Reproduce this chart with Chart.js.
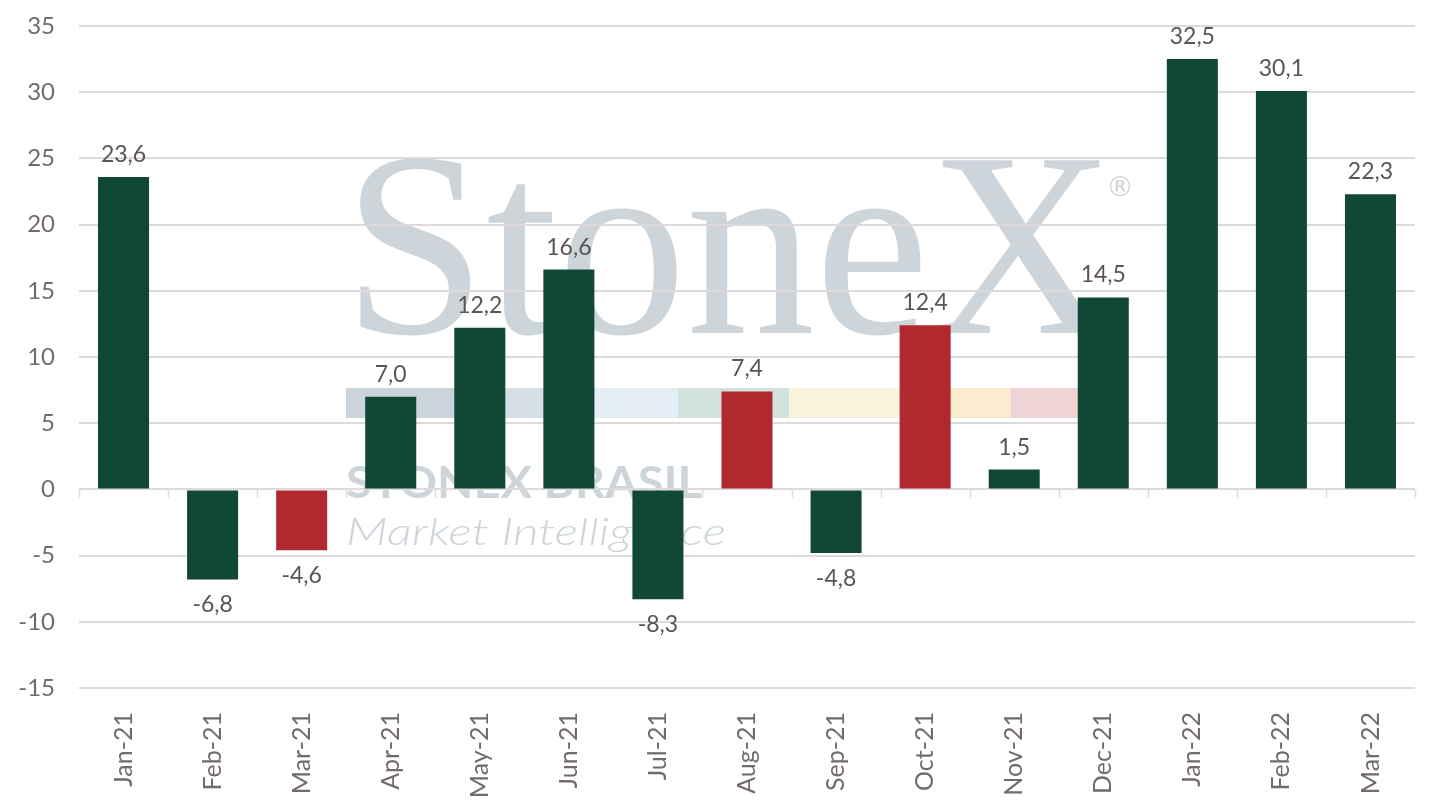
<!DOCTYPE html>
<html>
<head>
<meta charset="utf-8">
<script src="https://cdn.jsdelivr.net/npm/chart.js@4.4.1/dist/chart.umd.min.js"></script>
<style>
  html, body { margin: 0; padding: 0; background: #ffffff; }
  #wrap { width: 1438px; height: 808px; position: relative; }
</style>
</head>
<body>
<div id="wrap"><canvas id="c" width="1438" height="808"></canvas></div>
<script>
const categories = ["Jan-21","Feb-21","Mar-21","Apr-21","May-21","Jun-21","Jul-21","Aug-21","Sep-21","Oct-21","Nov-21","Dec-21","Jan-22","Feb-22","Mar-22"];
const values = [23.6, -6.8, -4.6, 7.0, 12.2, 16.6, -8.3, 7.4, -4.8, 12.4, 1.5, 14.5, 32.5, 30.1, 22.3];
const redCategories = ["Mar-21", "Aug-21", "Oct-21"];
const yTicks = [-15, -10, -5, 0, 5, 10, 15, 20, 25, 30, 35];

const GREEN = "#114735";
const RED = "#b1292f";
const TEXT = "#736a6c";
const LABEL = "#5b5355";
const GRID = "#dedadb";
const WM = "#cdd5db";

const barColors = categories.map(c => redCategories.includes(c) ? RED : GREEN);
const fmt = v => v.toFixed(1).replace(".", ",");

const watermark = {
  id: "watermark",
  beforeDraw(chart) {
    const ctx = chart.ctx;
    ctx.save();
    ctx.fillStyle = "#ffffff";
    ctx.fillRect(0, 0, chart.width, chart.height);
    ctx.fillStyle = WM;
    ctx.font = "264px 'Liberation Serif', 'DejaVu Serif', serif";
    ctx.textBaseline = "alphabetic";
    ctx.textAlign = "left";
    const w = ctx.measureText("StoneX").width;
    ctx.save();
    ctx.translate(343, 333);
    ctx.scale(772 / w, 1);
    ctx.fillText("StoneX", 0, 0);
    ctx.restore();
    ctx.font = "28px 'DejaVu Sans', sans-serif";
    ctx.textAlign = "center";
    ctx.fillText("\u00AE", 1120, 196);
    const segs = [
      [346, 505, "#ccd4db"], [505, 595, "#d6dfe8"], [595, 678, "#e3eef5"],
      [678, 789, "#d3e2dc"], [789, 949, "#f9f3dc"], [949, 1011, "#fcebcf"], [1011, 1085, "#f0d4d5"]
    ];
    segs.forEach(s => { ctx.fillStyle = s[2]; ctx.fillRect(s[0], 388, s[1] - s[0], 30); });
    ctx.fillStyle = WM;
    ctx.textAlign = "left";
    ctx.font = "bold 43px Lato, 'Open Sans', sans-serif";
    let w2 = ctx.measureText("STONEX BRASIL").width;
    ctx.save();
    ctx.translate(346, 498);
    ctx.scale(356 / w2, 1);
    ctx.fillText("STONEX BRASIL", 0, 0);
    ctx.restore();
    ctx.font = "italic 300 38px Lato, 'Open Sans', sans-serif";
    let w3 = ctx.measureText("Market Intelligence").width;
    ctx.save();
    ctx.translate(346, 545);
    ctx.scale(380 / w3, 1);
    ctx.fillText("Market Intelligence", 0, 0);
    ctx.restore();
    ctx.restore();
  }
};

const extras = {
  id: "extras",
  afterDatasetsDraw(chart) {
    const ctx = chart.ctx;
    const x = chart.scales.x, y = chart.scales.y;
    const y0 = y.getPixelForValue(0);
    ctx.save();
    ctx.strokeStyle = GRID;
    ctx.lineWidth = 1.5;
    for (let i = 0; i <= categories.length; i++) {
      const px = Math.round(x.getPixelForValue(i - 0.5)) + 0.5;
      ctx.beginPath();
      ctx.moveTo(px, y0);
      ctx.lineTo(px, y0 + 8);
      ctx.stroke();
    }
    ctx.fillStyle = LABEL;
    ctx.font = "23px Lato, 'Open Sans', sans-serif";
    ctx.textAlign = "center";
    ctx.textBaseline = "alphabetic";
    const meta = chart.getDatasetMeta(0);
    meta.data.forEach((bar, i) => {
      const v = values[i];
      const ty = v >= 0 ? bar.y - 15 : bar.y + 33;
      ctx.fillText(fmt(v), bar.x, ty);
    });
    ctx.restore();
  }
};

new Chart(document.getElementById("c"), {
  type: "bar",
  data: {
    labels: categories,
    datasets: [{
      data: values,
      backgroundColor: barColors,
      borderWidth: 0,
      categoryPercentage: 1.0,
      barPercentage: 0.573
    }]
  },
  options: {
    responsive: false,
    animation: false,
    devicePixelRatio: 1,
    layout: { autoPadding: false, padding: { top: 26, right: 23, left: 0, bottom: 0 } },
    plugins: { legend: { display: false }, tooltip: { enabled: false }, title: { display: false } },
    scales: {
      x: {
        grid: { display: false },
        border: { display: false },
        ticks: {
          color: TEXT,
          font: { family: "Lato, 'Open Sans', sans-serif", size: 25 },
          minRotation: 90, maxRotation: 90,
          padding: 16,
          autoSkip: false
        },
        afterFit(scale) { scale.height = 120; scale.paddingLeft = 0; scale.paddingRight = 0; }
      },
      y: {
        min: -15, max: 35,
        grid: { color: GRID, lineWidth: 2, drawTicks: false },
        border: { display: false },
        afterBuildTicks(scale) { scale.ticks = yTicks.map(v => ({ value: v })); },
        ticks: {
          color: TEXT,
          font: { family: "Lato, 'Open Sans', sans-serif", size: 24 },
          padding: 24,
          callback: v => String(v)
        },
        afterFit(scale) { scale.width = 79; scale.paddingTop = 0; scale.paddingBottom = 0; }
      }
    }
  },
  plugins: [watermark, extras]
});
</script>
</body>
</html>
